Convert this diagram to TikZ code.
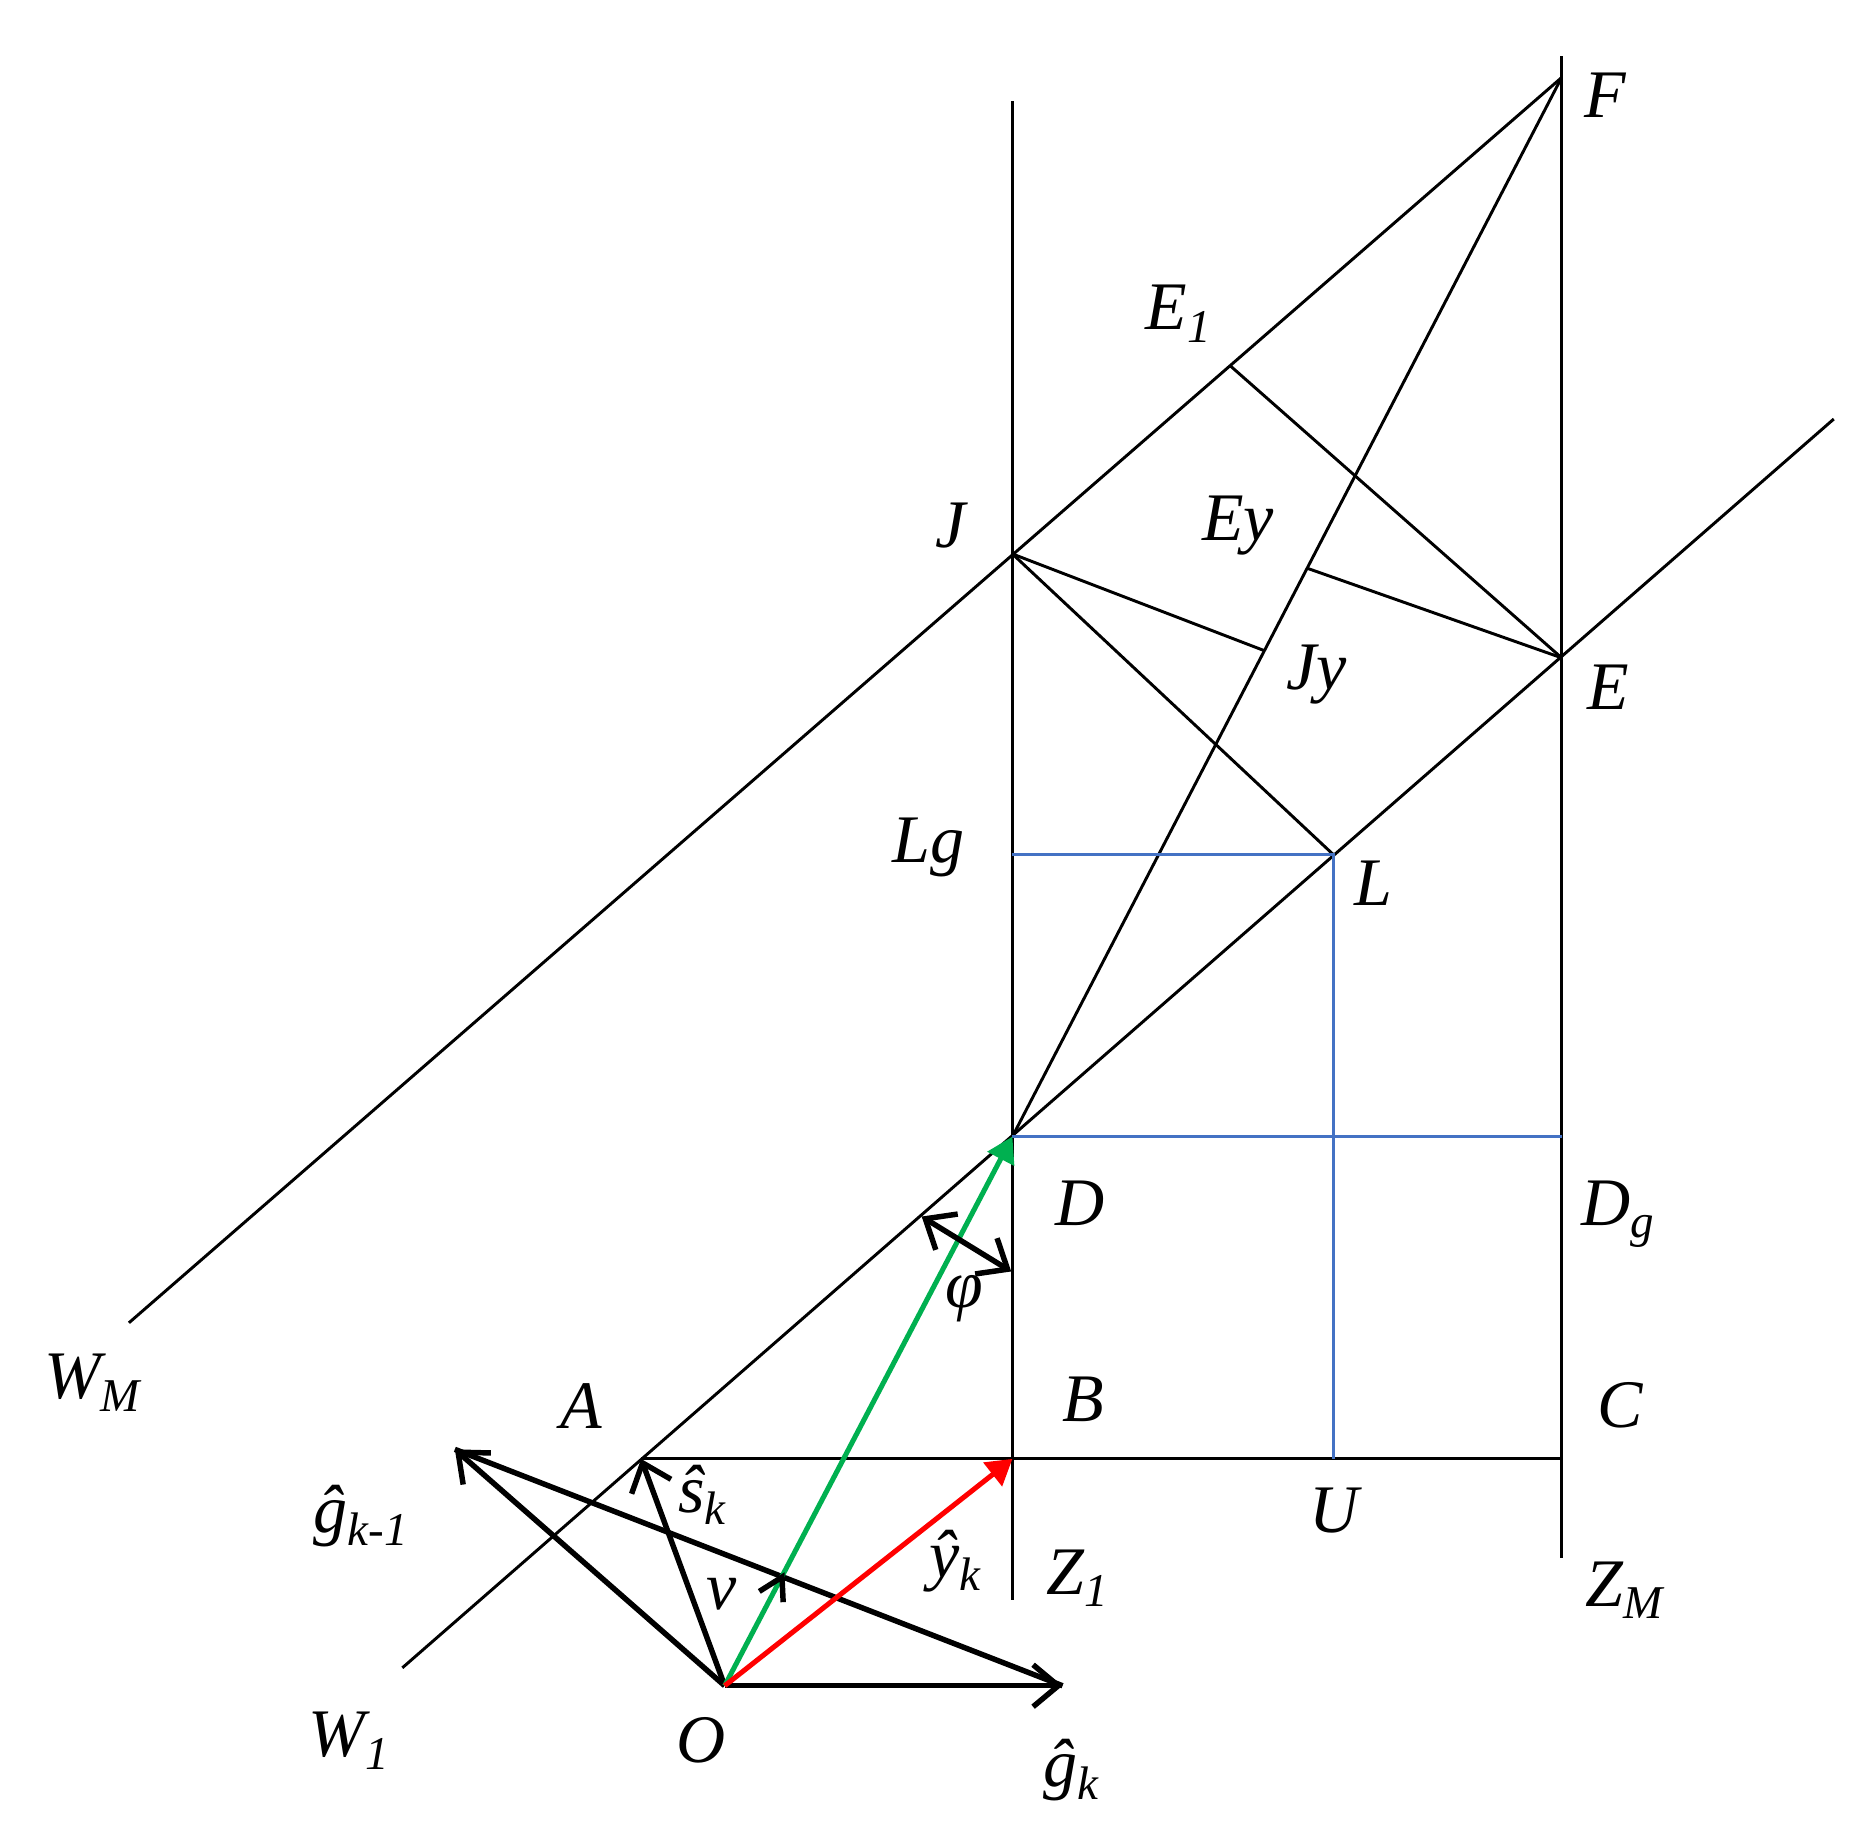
\documentclass[tikz,border=0pt]{standalone}
\usepackage{fontspec}
\setmainfont{Liberation Serif}
\usetikzlibrary{arrows.meta}
\newcommand\lsub[1]{\raisebox{-3pt}{\fontsize{11.2}{12}\selectfont\itshape #1}}
\begin{document}
\begin{tikzpicture}[x=0.01cm,y=-0.01cm,
  ln/.style={line width=0.7pt,black},
  bl/.style={line width=0.7pt,color={rgb,255:red,68;green,114;blue,196}},
  thk/.style={line width=1.3pt,black},
  vec/.style={thk,-{Straight Barb[length=6pt,width=10pt]}},
  gvec/.style={line width=1.2pt,color={rgb,255:red,0;green,176;blue,80},-{Triangle[length=6pt,width=7pt]}},
  rvec/.style={line width=1.2pt,color={rgb,255:red,255;green,0;blue,0},-{Triangle[length=6pt,width=7pt]}},
  lbl/.style={inner sep=0pt,font=\fontsize{16.2}{19}\selectfont\itshape}]
\useasboundingbox (0,0) rectangle (1568,1534);
% points
\coordinate (F) at (1308,65);
\coordinate (E) at (1308,551);
\coordinate (J) at (848,464);
\coordinate (D) at (848,952);
\coordinate (B) at (848,1222);
\coordinate (C) at (1308,1222);
\coordinate (A) at (537,1222);
\coordinate (O) at (607,1412);
\coordinate (L) at (1117,716);
\coordinate (Lg) at (848,716);
\coordinate (U) at (1117,1222);
\coordinate (Dg) at (1308,952);
\coordinate (E1) at (1030,306);
\coordinate (Jf) at (1059,545);
\coordinate (Ef) at (1095,476);
\coordinate (Z1top) at (848,85);
\coordinate (Z1bot) at (848,1340);
\coordinate (ZMtop) at (1308,47);
\coordinate (ZMbot) at (1308,1305);
\coordinate (WMend) at (108,1108);
\coordinate (W1a) at (337,1397);
\coordinate (W1b) at (1536,351);
\coordinate (Gk) at (890,1412);
\coordinate (Gk1) at (381,1214);
\coordinate (phi1) at (772,1019);
\coordinate (phi2) at (847,1065);
\coordinate (nu) at (655,1321);
\coordinate (nuA) at (636,1333);
\coordinate (nuB) at (656,1342);
% black construction lines
\draw[ln] (Z1top) -- (Z1bot);
\draw[ln] (ZMtop) -- (ZMbot);
\draw[ln] (WMend) -- (F);
\draw[ln] (W1a) -- (W1b);
\draw[ln] (A) -- (C);
\draw[ln] (D) -- (F);
\draw[ln] (J) -- (L);
\draw[ln] (E) -- (E1);
\draw[ln] (J) -- (Jf);
\draw[ln] (E) -- (Ef);
% blue lines
\draw[bl] (Lg) -- (L) -- (U);
\draw[bl] (D) -- (Dg);
% vectors
\draw[thk] (Gk1) -- (Gk);
\draw[vec] (O) -- (Gk);
\draw[vec] (O) -- (Gk1);
\draw[vec] (O) -- (A);
\draw[gvec] (O) -- (D);
\draw[rvec] (O) -- (B);
\draw[thk,{Straight Barb[length=6pt,width=10pt]}-{Straight Barb[length=6pt,width=10pt]}] (phi1) -- (phi2);
\draw[thk] (nuA) -- (nu) -- (nuB);
% labels
\node[lbl] (lF) at (1345,80) {F};
\node[lbl] (lE1) at (987,263) {E\lsub{1}};
\node[lbl] (lJ) at (796,440) {J};
\node[lbl] (lEy) at (1037,440) {Ey};
\node[lbl] (lJy) at (1103,565) {Jy};
\node[lbl] (lE) at (1347,576) {E};
\node[lbl] (lLg) at (778,710) {Lg};
\node[lbl] (lL) at (1150,740) {L};
\node[lbl] (lD) at (905,1008) {D};
\node[lbl] (lDg) at (1355,1017) {D\lsub{g}};
\node[lbl] (lphi) at (808,1088) {φ};
\node[lbl] (lWM) at (77,1158) {W\lsub{M}};
\node[lbl] (lA) at (487,1178) {A};
\node[lbl] (lB) at (907,1172) {B};
\node[lbl] (lC) at (1357,1177) {C};
\node[lbl] (lgk1) at (302,1270) {ĝ\lsub{k-1}};
\node[lbl] (lsk) at (588,1252) {ŝ\lsub{k}};
\node[lbl] (lU) at (1117,1265) {U};
\node[lbl] (lyk) at (800,1308) {ŷ\lsub{k}};
\node[lbl] (lZ1) at (902,1322) {Z\lsub{1}};
\node[lbl] (lZM) at (1360,1332) {Z\lsub{M}};
\node[lbl] (lnu) at (604,1335) {ν};
\node[lbl] (lW1) at (292,1458) {W\lsub{1}};
\node[lbl] (lO) at (587,1458) {O};
\node[lbl] (lgk) at (897,1483) {ĝ\lsub{k}};
\end{tikzpicture}
\end{document}
